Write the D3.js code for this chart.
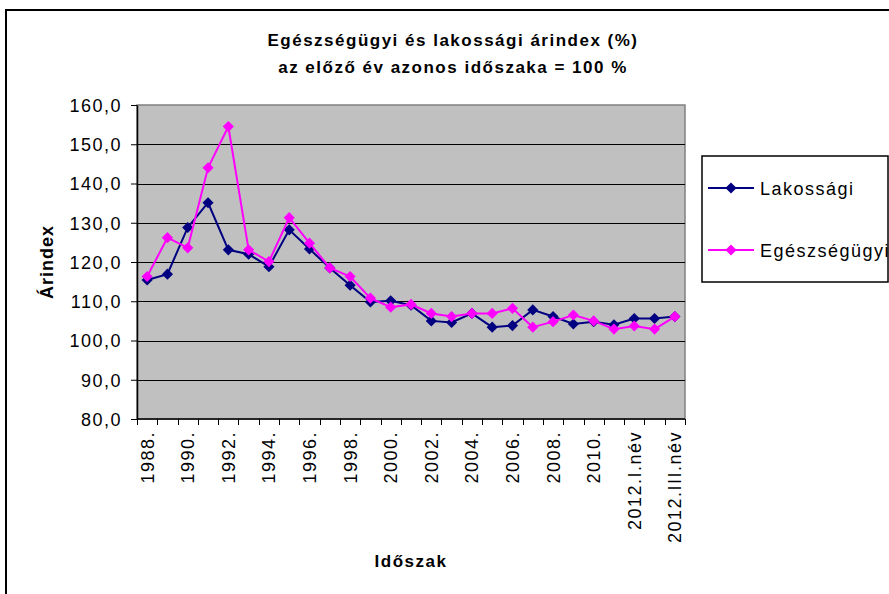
<!DOCTYPE html>
<head>
<meta charset="utf-8">
<script src="https://d3js.org/d3.v7.min.js"></script>
</head>
<body style="margin:0;background:#fff">
<style>
  text { font-family: "Liberation Sans", Arial, sans-serif; letter-spacing: 1.5px; }
</style>
<div id="viz"></div>
<script>
// categories (periods)
var periods = ["1988.","1989.","1990.","1991.","1992.","1993.","1994.","1995.","1996.","1997.",
  "1998.","1999.","2000.","2001.","2002.","2003.","2004.","2005.","2006.","2007.",
  "2008.","2009.","2010.","2011.","2012.I.név","2012.II.név","2012.III.név"];

// Lakossági (consumer) price index
var lakossagi = [115.4,116.9,128.8,135.1,123.1,122.0,118.8,128.2,123.3,118.5,
  114.1,109.8,110.1,109.0,105.0,104.6,106.9,103.4,103.8,107.8,
  106.1,104.2,104.8,104.0,105.6,105.6,106.1];

// Egészségügyi (health) price index
var egeszsegugyi = [116.3,126.2,123.6,144.0,154.5,123.1,120.1,131.3,124.8,118.5,
  116.3,110.8,108.5,109.2,106.9,106.1,106.9,106.9,108.2,103.4,
  104.8,106.5,105.0,102.9,103.7,102.9,106.1];

var yTicks = [80,90,100,110,120,130,140,150,160];

var series = [
  {name: "Lakossági", values: lakossagi, color: "#000080"},
  {name: "Egészségügyi", values: egeszsegugyi, color: "#FF00FF"}
];

var W = 889, H = 594;
var plot = {left: 137, right: 685, top: 105, bottom: 419};

var svg = d3.select("#viz").append("svg")
  .attr("width", W).attr("height", H);

svg.append("rect").attr("width", W).attr("height", H).attr("fill", "#fff");

// outer chart border (cropped on right/bottom)
svg.append("path")
  .attr("d", "M6," + H + "V10H" + W)
  .attr("fill", "none").attr("stroke", "#000").attr("stroke-width", 2);

var x = d3.scaleBand().domain(periods).range([plot.left, plot.right]).paddingInner(0).paddingOuter(0);
var y = d3.scaleLinear().domain([80, 160]).range([plot.bottom, plot.top]);

// plot area
svg.append("rect")
  .attr("x", plot.left).attr("y", plot.top)
  .attr("width", plot.right - plot.left).attr("height", plot.bottom - plot.top)
  .attr("fill", "#C0C0C0").attr("stroke", "#808080").attr("stroke-width", 1.5);

// gridlines
svg.append("g").selectAll("line").data(yTicks.slice(1, -1)).join("line")
  .attr("x1", plot.left).attr("x2", plot.right)
  .attr("y1", function(d) { return Math.round(y(d)) + 0.5; })
  .attr("y2", function(d) { return Math.round(y(d)) + 0.5; })
  .attr("stroke", "#000").attr("stroke-width", 1);

// y axis
var yAxis = svg.append("g")
  .attr("transform", "translate(" + plot.left + ",0)")
  .call(d3.axisLeft(y).tickValues(yTicks).tickSize(6).tickSizeOuter(0).tickPadding(9)
    .tickFormat(function(d) { return d.toFixed(1).replace(".", ","); }));
yAxis.select(".domain").attr("stroke", "#000").attr("stroke-width", 1.5);
yAxis.selectAll(".tick line").attr("stroke", "#000");
yAxis.selectAll(".tick text")
  .attr("font-size", 18).attr("fill", "#000").attr("dy", "0.35em")
  .style("font-family", "'Liberation Sans', Arial, sans-serif");

// x axis line and tick marks at category boundaries
svg.append("line")
  .attr("x1", plot.left).attr("x2", plot.right)
  .attr("y1", plot.bottom).attr("y2", plot.bottom)
  .attr("stroke", "#000").attr("stroke-width", 1.5);
svg.append("g").selectAll("line").data(periods.concat([null])).join("line")
  .attr("x1", function(d, i) { return Math.round(plot.left + i * x.bandwidth()) + 0.5; })
  .attr("x2", function(d, i) { return Math.round(plot.left + i * x.bandwidth()) + 0.5; })
  .attr("y1", plot.bottom).attr("y2", plot.bottom + 6)
  .attr("stroke", "#000");

// x labels, every second category, rotated
svg.append("g").selectAll("text").data(periods.filter(function(d, i) { return i % 2 === 0; })).join("text")
  .attr("transform", function(d) {
    return "translate(" + (x(d) + x.bandwidth() / 2 + 6.5) + "," + (plot.bottom + 12) + ") rotate(-90)";
  })
  .attr("text-anchor", "end")
  .attr("font-size", 18)
  .text(function(d) { return d; });

// lines and diamond markers (square rotated 45 degrees)
var line = d3.line()
  .x(function(d, i) { return x(periods[i]) + x.bandwidth() / 2; })
  .y(function(d) { return y(d); });
var diamond = d3.symbol().type(d3.symbolSquare).size(62);

series.forEach(function(s) {
  svg.append("path")
    .datum(s.values)
    .attr("fill", "none")
    .attr("stroke", s.color)
    .attr("stroke-width", 2)
    .attr("d", line);
  svg.append("g").selectAll("path").data(s.values).join("path")
    .attr("transform", function(d, i) {
      return "translate(" + (x(periods[i]) + x.bandwidth() / 2) + "," + y(d) + ") rotate(45)";
    })
    .attr("d", diamond)
    .attr("fill", s.color);
});

// titles
svg.append("text").attr("x", 453).attr("y", 46).attr("text-anchor", "middle")
  .attr("font-size", 17).attr("font-weight", "bold")
  .text("Egészségügyi és lakossági árindex (%)");
svg.append("text").attr("x", 453).attr("y", 73).attr("text-anchor", "middle")
  .attr("font-size", 17).attr("font-weight", "bold")
  .text("az előző év azonos időszaka = 100 %");

svg.append("text")
  .attr("transform", "translate(53," + ((plot.top + plot.bottom) / 2) + ") rotate(-90)")
  .attr("text-anchor", "middle")
  .attr("font-size", 18).attr("font-weight", "bold")
  .style("letter-spacing", "1px")
  .text("Árindex");

svg.append("text").attr("x", 411).attr("y", 567).attr("text-anchor", "middle")
  .attr("font-size", 17).attr("font-weight", "bold")
  .text("Időszak");

// legend
var legend = svg.append("g");
legend.append("rect")
  .attr("x", 702).attr("y", 156).attr("width", 186).attr("height", 126)
  .attr("fill", "#fff").attr("stroke", "#000").attr("stroke-width", 1.5);
series.forEach(function(s, i) {
  var ly = 188 + i * 62;
  legend.append("line")
    .attr("x1", 708).attr("x2", 754).attr("y1", ly).attr("y2", ly)
    .attr("stroke", s.color).attr("stroke-width", 2);
  legend.append("path")
    .attr("transform", "translate(731," + ly + ") rotate(45)")
    .attr("d", diamond).attr("fill", s.color);
  legend.append("text")
    .attr("x", 760).attr("y", ly + 6.5)
    .attr("font-size", 18)
    .text(s.name);
});
</script>
</body>
